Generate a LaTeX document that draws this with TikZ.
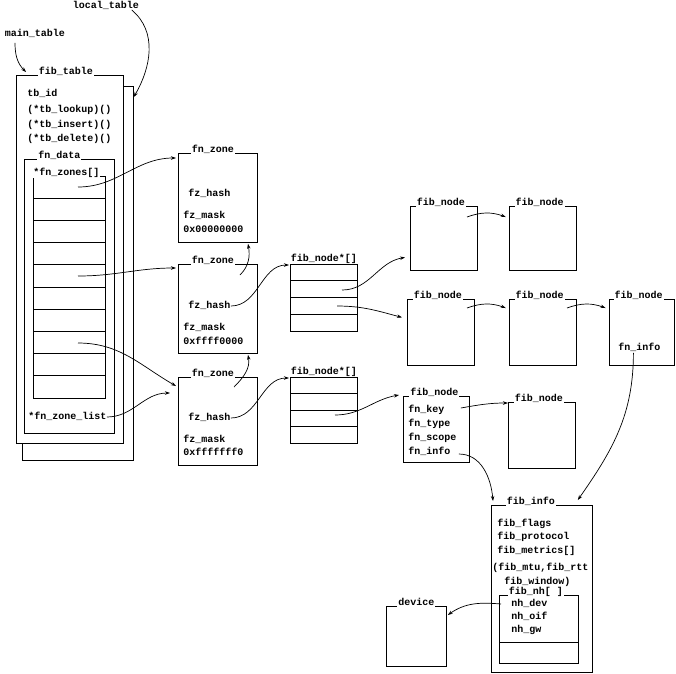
\documentclass[tikz,border=0pt]{standalone}
\usepackage{fontspec}
\setmonofont{Liberation Mono}
\usepackage{tikz}
\usetikzlibrary{calc, positioning, arrows.meta}

\begin{document}
\begin{tikzpicture}[
  x=1pt, y=-1pt, line width=0.8pt,
  font=\ttfamily\bfseries\fontsize{10}{12}\selectfont,
  structbox/.style={draw, fill=white, inner sep=0pt, anchor=north west},
  boxtitle/.style={fill=white, inner sep=1pt, text depth=2pt, anchor=base},
  arrtitle/.style={inner sep=0pt, anchor=base},
  field/.style={inner sep=0pt, text height=7pt, text depth=2pt, anchor=west},
  ptrarrow/.style={-{Stealth[length=5pt,width=3.5pt]}, line width=0.7pt}
]
\useasboundingbox (0,0) rectangle (676,673);
\node (localname) at (106,5) {local\_table};
\node (mainname) at (35,33) {main\_table};
\node[structbox, minimum width=111pt, minimum height=374pt] (localtbl) at (22,86) {};
\node[structbox, minimum width=107pt, minimum height=368pt] (fibtable) at (16,75) {};
\node[boxtitle] (fibtabletitle) at ($(fibtable.north)+(-4,-1)$) {fib\_table};
\node[field] (tbid) at (27,94) {tb\_id};
\node[field] (tblookup) at (27,110) {(*tb\_lookup)()};
\node[field] (tbinsert) at (27,125) {(*tb\_insert)()};
\node[field] (tbdelete) at (27,139) {(*tb\_delete)()};
\node[structbox, minimum width=90pt, minimum height=274pt] (fndata) at (24,159) {};
\node[boxtitle] (fndatatitle) at ($(fndata.north)+(-10,-1)$) {fn\_data};
\node[structbox, minimum width=72pt, minimum height=222pt] (zones) at (33,176) {};
\foreach \k in {1,...,9}
  \draw ($(zones.north west)+(0,22.2*\k)$) -- ($(zones.north east)+(0,22.2*\k)$);
\node[boxtitle] (zonestitle) at ($(zones.north)+(-3,-1)$) {*fn\_zones[]};
\node[field] (zonelist) at (28,417) {*fn\_zone\_list};
\coordinate (cellA) at (78,187);
\coordinate (cellE) at (78,276);
\coordinate (cellH) at (78,343);

\node[structbox, minimum width=79pt, minimum height=89pt] (zone1) at (178,153) {};
\node[boxtitle] (zone1title) at ($(zone1.north)+(-5,-1)$) {fn\_zone};
\node[field] (hash1) at (188,194) {fz\_hash};
\node[field] (mask1) at (183,216) {fz\_mask};
\node[field] (val1) at (183,230) {0x00000000};
\node[structbox, minimum width=79pt, minimum height=89pt] (zone2) at (178,264) {};
\node[boxtitle] (zone2title) at ($(zone2.north)+(-5,-1)$) {fn\_zone};
\node[field] (hash2) at (188,306) {fz\_hash};
\node[field] (mask2) at (183,328) {fz\_mask};
\node[field] (val2) at (183,342) {0xffff0000};
\node[structbox, minimum width=79pt, minimum height=88pt] (zone3) at (178,377) {};
\node[boxtitle] (zone3title) at ($(zone3.north)+(-5,-1)$) {fn\_zone};
\node[field] (hash3) at (188,418) {fz\_hash};
\node[field] (mask3) at (183,440) {fz\_mask};
\node[field] (val3) at (183,453) {0xfffffff0};
\coordinate (z2up) at (240,275);
\coordinate (z3up) at (234,387);

\node[structbox, minimum width=67pt, minimum height=67pt] (ptrs1) at (290,264) {};
\foreach \k in {1,2,3}
  \draw ($(ptrs1.north west)+(0,16.75*\k)$) -- ($(ptrs1.north east)+(0,16.75*\k)$);
\node[arrtitle] (ptrs1title) at ($(ptrs1.north)+(0,-3)$) {fib\_node*[]};
\node[structbox, minimum width=67pt, minimum height=66pt] (ptrs2) at (290,377) {};
\foreach \k in {1,2,3}
  \draw ($(ptrs2.north west)+(0,16.5*\k)$) -- ($(ptrs2.north east)+(0,16.5*\k)$);
\node[arrtitle] (ptrs2title) at ($(ptrs2.north)+(0,-3)$) {fib\_node*[]};
\coordinate (p1b) at (342,290);
\coordinate (p1c) at (337,306);
\coordinate (p2c) at (335,415);

\node[structbox, minimum width=67pt, minimum height=64pt] (nodeA) at (410,206) {};
\node[structbox, minimum width=67pt, minimum height=64pt, right=31pt of nodeA] (nodeB) {};
\node[structbox, minimum width=67pt, minimum height=66pt] (nodeC) at (407,299) {};
\node[structbox, minimum width=67pt, minimum height=66pt, right=34pt of nodeC] (nodeD) {};
\node[structbox, minimum width=65pt, minimum height=66pt, right=32pt of nodeD] (nodeF) {};
\node[structbox, minimum width=66pt, minimum height=66pt] (nodeE) at (403,396) {};
\node[structbox, minimum width=67pt, minimum height=66pt] (nodeG) at (508,402) {};
\node[boxtitle] (nodeAtitle) at ($(nodeA.north)+(-3,-1)$) {fib\_node};
\node[boxtitle] (nodeBtitle) at ($(nodeB.north)+(-3,-1)$) {fib\_node};
\node[boxtitle] (nodeCtitle) at ($(nodeC.north)+(-3,-1)$) {fib\_node};
\node[boxtitle] (nodeDtitle) at ($(nodeD.north)+(-3,-1)$) {fib\_node};
\node[boxtitle] (nodeFtitle) at ($(nodeF.north)+(-3,-1)$) {fib\_node};
\node[boxtitle] (nodeEtitle) at ($(nodeE.north)+(-2,-1)$) {fib\_node};
\node[boxtitle] (nodeGtitle) at ($(nodeG.north)+(-3,-1)$) {fib\_node};
\node[field] (infoF) at (618,348) {fn\_info};
\node[field] (keyE) at (408,410) {fn\_key};
\node[field] (typeE) at (408,424) {fn\_type};
\node[field] (scopeE) at (408,438) {fn\_scope};
\node[field] (infoE) at (408,452) {fn\_info};
\coordinate (aout) at (467,217);
\coordinate (cout) at (467,308);
\coordinate (dout) at (567,308);

\node[structbox, minimum width=101pt, minimum height=167pt] (fibinfo) at (491,505) {};
\node[boxtitle] (fibinfotitle) at ($(fibinfo.north)+(-11,-1)$) {fib\_info};
\node[field] (flags) at (497,524) {fib\_flags};
\node[field] (protocol) at (497,537) {fib\_protocol};
\node[field] (metrics) at (497,551) {fib\_metrics[]};
\node[field] (mturtt) at (492,568) {(fib\_mtu,fib\_rtt};
\node[field] (window) at (504,582) {fib\_window)};
\node[structbox, minimum width=79pt, minimum height=68pt] (nhbox) at (499,595) {};
\draw ($(nhbox.north west)+(0,47)$) -- ($(nhbox.north east)+(0,47)$);
\node[boxtitle] (nhtitle) at ($(nhbox.north)+(-3,-1)$) {fib\_nh[ ]};
\node[field] (nhdev) at (511,604) {nh\_dev};
\node[field] (nhoif) at (511,617) {nh\_oif};
\node[field] (nhgw) at (511,630) {nh\_gw};
\node[structbox, minimum width=60pt, minimum height=60pt] (device) at (386,606) {};
\node[boxtitle] (devicetitle) at ($(device.north)+(0,-1)$) {device};

\draw[ptrarrow] ($(mainname.south)+(-20,2)$) to[out=-90, in=135] ($(fibtable.north west)+(10,-3)$);
\draw[ptrarrow] ($(localname.east)+(-11,5)$) to[out=-40, in=60] ($(localtbl.north east)+(0,11)$);
\draw[ptrarrow] (cellA) to[out=0, in=180] ($(zone1.north west)+(-2,5)$);
\draw[ptrarrow] (cellE) to[out=0, in=180] ($(zone2.north west)+(-2,4)$);
\draw[ptrarrow] (cellH) to[out=0, in=150] ($(zone3.north west)+(-2,9)$);
\draw[ptrarrow] (zonelist.east) to[out=0, in=180] ($(zone3.north west)+(-8,16)$);
\draw[ptrarrow] (z2up) to[out=45, in=-80] ($(zone1.south west)+(70,1)$);
\draw[ptrarrow] (z3up) to[out=45, in=-80] ($(zone2.south west)+(70,1)$);
\draw[ptrarrow] (hash2.east) to[out=0, in=180] ($(ptrs1.north west)+(-1,1)$);
\draw[ptrarrow] (hash3.east) to[out=0, in=180] ($(ptrs2.north west)+(-1,1)$);
\draw[ptrarrow] (p1b) to[out=0, in=190] ($(nodeA.west)+(-5,19)$);
\draw[ptrarrow] (p1c) to[out=0, in=165] ($(nodeC.west)+(-5,-15)$);
\draw[ptrarrow] (p2c) to[out=0, in=190] ($(nodeE.north west)+(-4,-1)$);
\draw[ptrarrow] (aout) to[bend left=20] ($(nodeB.north west)+(-3,11)$);
\draw[ptrarrow] (cout) to[bend left=20] ($(nodeD.north west)+(-3,9)$);
\draw[ptrarrow] (dout) to[bend left=20] ($(nodeF.north west)+(-3,9)$);
\draw[ptrarrow] ($(infoF.south)+(-6,0)$) to[out=-90, in=55] ($(fibinfo.north east)+(-15,-5)$);
\draw[ptrarrow] ($(keyE.east)+(16,-2)$) to[out=10, in=180] ($(nodeG.north west)+(0,1)$);
\draw[ptrarrow] ($(infoE.east)+(8,2)$) to[out=0, in=95] ($(fibinfo.north west)+(2,-4)$);
\draw[ptrarrow] ($(nhdev.west)+(-10,0)$) to[out=175, in=35] ($(device.north east)+(1,9)$);
\end{tikzpicture}
\end{document}
